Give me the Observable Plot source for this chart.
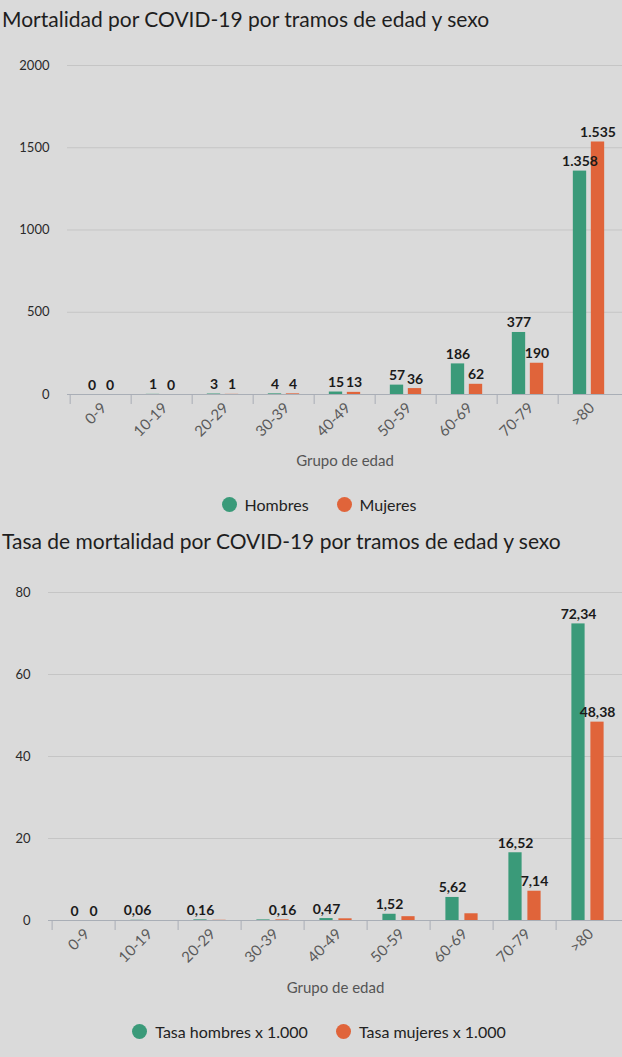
<!DOCTYPE html>
<html>
<head>
<meta charset="utf-8">
<script src="https://cdn.jsdelivr.net/npm/d3@7"></script>
<script src="https://cdn.jsdelivr.net/npm/@observablehq/plot@0.6"></script>
<style>
  html, body { margin: 0; padding: 0; background: #dadada; }
  #root { width: 622px; height: 1057px; background: #dadada; font-family: Lato, "Open Sans", sans-serif; overflow: hidden; }
  .title { font-size: 21px; color: #1e1e1e; padding-left: 2px; white-space: nowrap; }
  .legend { display: flex; justify-content: center; align-items: center; gap: 28px; font-size: 16px; color: #222; padding-left: 16px; }
  .legend span.item { display: inline-flex; align-items: center; gap: 8px; }
  .legend i { display: inline-block; width: 15px; height: 15px; border-radius: 50%; }
  svg { display: block; }
</style>
</head>
<body>
<div id="root"></div>
<script>
// ---- data ----
const categories = ["0-9", "10-19", "20-29", "30-39", "40-49", "50-59", "60-69", "70-79", ">80"];
const muertesHombres = [0, 1, 3, 4, 15, 57, 186, 377, 1358];
const muertesMujeres = [0, 0, 1, 4, 13, 36, 62, 190, 1535];
const tasaHombres = [0, 0.06, 0.16, 0.15, 0.47, 1.52, 5.62, 16.52, 72.34];
const tasaMujeres = [0, 0, 0.06, 0.16, 0.41, 0.93, 1.64, 7.14, 48.38];
const ticksMuertes = [0, 500, 1000, 1500, 2000];
const ticksTasa = [0, 20, 40, 60, 80];
const titulo1 = "Mortalidad por COVID-19 por tramos de edad y sexo";
const titulo2 = "Tasa de mortalidad por COVID-19 por tramos de edad y sexo";
const ejeX = "Grupo de edad";
const leyenda1 = ["Hombres", "Mujeres"];
const leyenda2 = ["Tasa hombres x 1.000", "Tasa mujeres x 1.000"];

const GREEN = "#3a9a79";
const ORANGE = "#e0643a";
const es = d3.formatLocale({decimal: ",", thousands: ".", grouping: [3], currency: ["", "€"]});
const fmtInt = es.format(",d");
const fmtDec = es.format(",.2~f");

function charW(s) {
  let w = 0;
  for (const c of s) w += (c === "," || c === ".") ? 3.6 : 7.8;
  return w;
}

function chart({h, m, ticks, fmt, ML, MT, MB, H, gap, hide, labelOffset}) {
  const W = 622;
  const bw = (W - ML) / 9;
  const barW = 14;
  const left = (bw - 2 * barW - gap) / 2;
  const dxH = left + barW / 2 - bw / 2;
  const dxM = left + barW + gap + barW / 2 - bw / 2;
  const max = ticks[ticks.length - 1];
  const plotH = H - MT - MB;
  const rows = categories.map((c, i) => ({cat: c, h: h[i], m: m[i], showH: true, showM: true}));
  if (hide) {
    for (const r of rows) {
      const wH = charW(fmt(r.h)) + 10, wM = charW(fmt(r.m)) + 10;
      const overlapX = (wH + wM) / 2 > (dxM - dxH);
      const overlapY = Math.abs((r.h - r.m) / max * plotH) < 25;
      if (overlapX && overlapY) {
        if (r.h >= r.m) r.showM = false; else r.showH = false;
      }
    }
  }
  const axisColor = "#a9aeb6";
  return Plot.plot({
    width: W, height: H,
    marginLeft: ML, marginRight: 0, marginTop: MT, marginBottom: MB,
    style: {background: "transparent", fontFamily: "Lato, 'Open Sans', sans-serif", overflow: "visible"},
    x: {domain: categories, padding: 0, label: null, axis: null},
    y: {domain: [0, max], label: null, axis: null},
    marks: [
      Plot.gridY(ticks.filter(t => t > 0), {stroke: "#c5c5c5", strokeOpacity: 1}),
      Plot.axisY({ticks, tickSize: 0, tickPadding: 18, label: null, fontSize: 13, fill: "#2a2a2a", tickFormat: d => String(d)}),
      Plot.barY(rows, {x: "cat", y: "h", fill: GREEN, insetLeft: left, insetRight: bw - left - barW}),
      Plot.barY(rows, {x: "cat", y: "m", fill: ORANGE, insetLeft: left + barW + gap, insetRight: bw - left - 2 * barW - gap}),
      Plot.ruleY([0], {stroke: axisColor}),
      Plot.axisX({tickSize: 10, tickFormat: () => "", dx: -bw / 2, stroke: axisColor, label: null}),
      Plot.axisX({tickSize: 0, tickPadding: 11, tickRotate: -45, dx: 3, fontSize: 15, fill: "#5a5a5a", label: null}),
      Plot.axisX({tickSize: 0, tickFormat: () => "", label: ejeX, labelAnchor: "center", labelOffset,
                  fontSize: 15, fill: "#555"}),
      Plot.text(rows, {filter: d => d.showH, x: "cat", y: "h", text: d => fmt(d.h), dx: dxH, dy: -5, lineAnchor: "bottom",
                       fontSize: 14, fontWeight: "bold", fill: "#1a1a1a"}),
      Plot.text(rows, {filter: d => d.showM, x: "cat", y: "m", text: d => fmt(d.m), dx: dxM, dy: -5, lineAnchor: "bottom",
                       fontSize: 14, fontWeight: "bold", fill: "#1a1a1a"})
    ]
  });
}

function legend(labels, height) {
  const div = document.createElement("div");
  div.className = "legend";
  div.style.height = height + "px";
  [GREEN, ORANGE].forEach((c, i) => {
    const s = document.createElement("span");
    s.className = "item";
    s.innerHTML = `<i style="background:${c}"></i>${labels[i]}`;
    div.appendChild(s);
  });
  return div;
}

function title(text, height) {
  const div = document.createElement("div");
  div.className = "title";
  div.style.height = height + "px";
  div.style.lineHeight = height + "px";
  div.textContent = text;
  return div;
}

const root = document.getElementById("root");
root.appendChild(title(titulo1, 38));
root.appendChild(chart({h: muertesHombres, m: muertesMujeres, ticks: ticksMuertes, fmt: fmtInt,
  ML: 67, MT: 27, MB: 86, H: 442, gap: 4, hide: false, labelOffset: 71}));
root.appendChild(legend(leyenda1, 48));
root.appendChild(title(titulo2, 26));
root.appendChild(chart({h: tasaHombres, m: tasaMujeres, ticks: ticksTasa, fmt: fmtDec,
  ML: 48, MT: 38, MB: 85, H: 451, gap: 5, hide: true, labelOffset: 72}));
root.appendChild(legend(leyenda2, 52));
</script>
</body>
</html>
